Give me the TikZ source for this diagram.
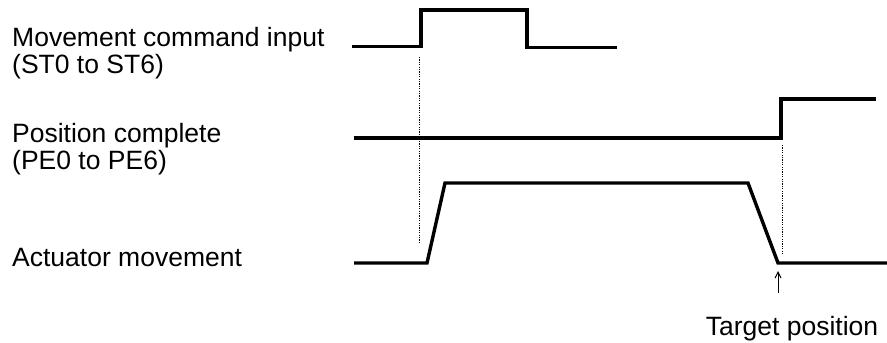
\documentclass[tikz,border=0pt]{standalone}
\usepackage{fontspec}
\setmainfont{Liberation Sans}
\usetikzlibrary{arrows.meta}
\begin{document}
\begin{tikzpicture}[x=1pt,y=-1pt,
  lbl/.style={anchor=base west,inner sep=0pt,font=\fontsize{26.5}{30}\selectfont},
  sig/.style={line width=3.4pt,line join=miter},
  guide/.style={line width=1pt,dash pattern=on 1.2pt off 1.2pt},
  pointer/.style={line width=1pt,-{Straight Barb[length=6pt,width=6pt]}}]
\useasboundingbox (0,0) rectangle (887,343);
% labels
\node[lbl] (l1) at (12,46) {Movement command input};
\node[lbl] (l2) at (12,73) {(ST0 to ST6)};
\node[lbl] (l3) at (12,142) {Position complete};
\node[lbl] (l4) at (12,169) {(PE0 to PE6)};
\node[lbl] (l5) at (12,266) {Actuator movement};
\node[lbl,anchor=base] (tp) at (792,335) {Target position};
% signals
\coordinate (s1rise) at (421,46.5);
\coordinate (s2rise) at (781,138);
\coordinate (s3stop) at (778,263);
\draw[sig] (352,46.5) -- (s1rise) -- (421,10) -- (527,10) -- (527,47.5) -- (617,47.5);
\draw[sig] (354,138) -- (s2rise) -- (781,99) -- (876,99);
\draw[sig] (354,263) -- (427,263) -- (445,183) -- (748,183) -- (s3stop) -- (887,263);
% dotted guides
\coordinate (g1a) at (419,57);
\coordinate (g1b) at (419,244);
\coordinate (g2a) at (782,145);
\coordinate (g2b) at (782,254);
\draw[guide] (g1a) -- (g1b);
\draw[guide] (g2a) -- (g2b);
% arrow
\coordinate (atail) at (778,293);
\coordinate (ahead) at (778,271);
\draw[pointer] (atail) -- (ahead);
\end{tikzpicture}
\end{document}
